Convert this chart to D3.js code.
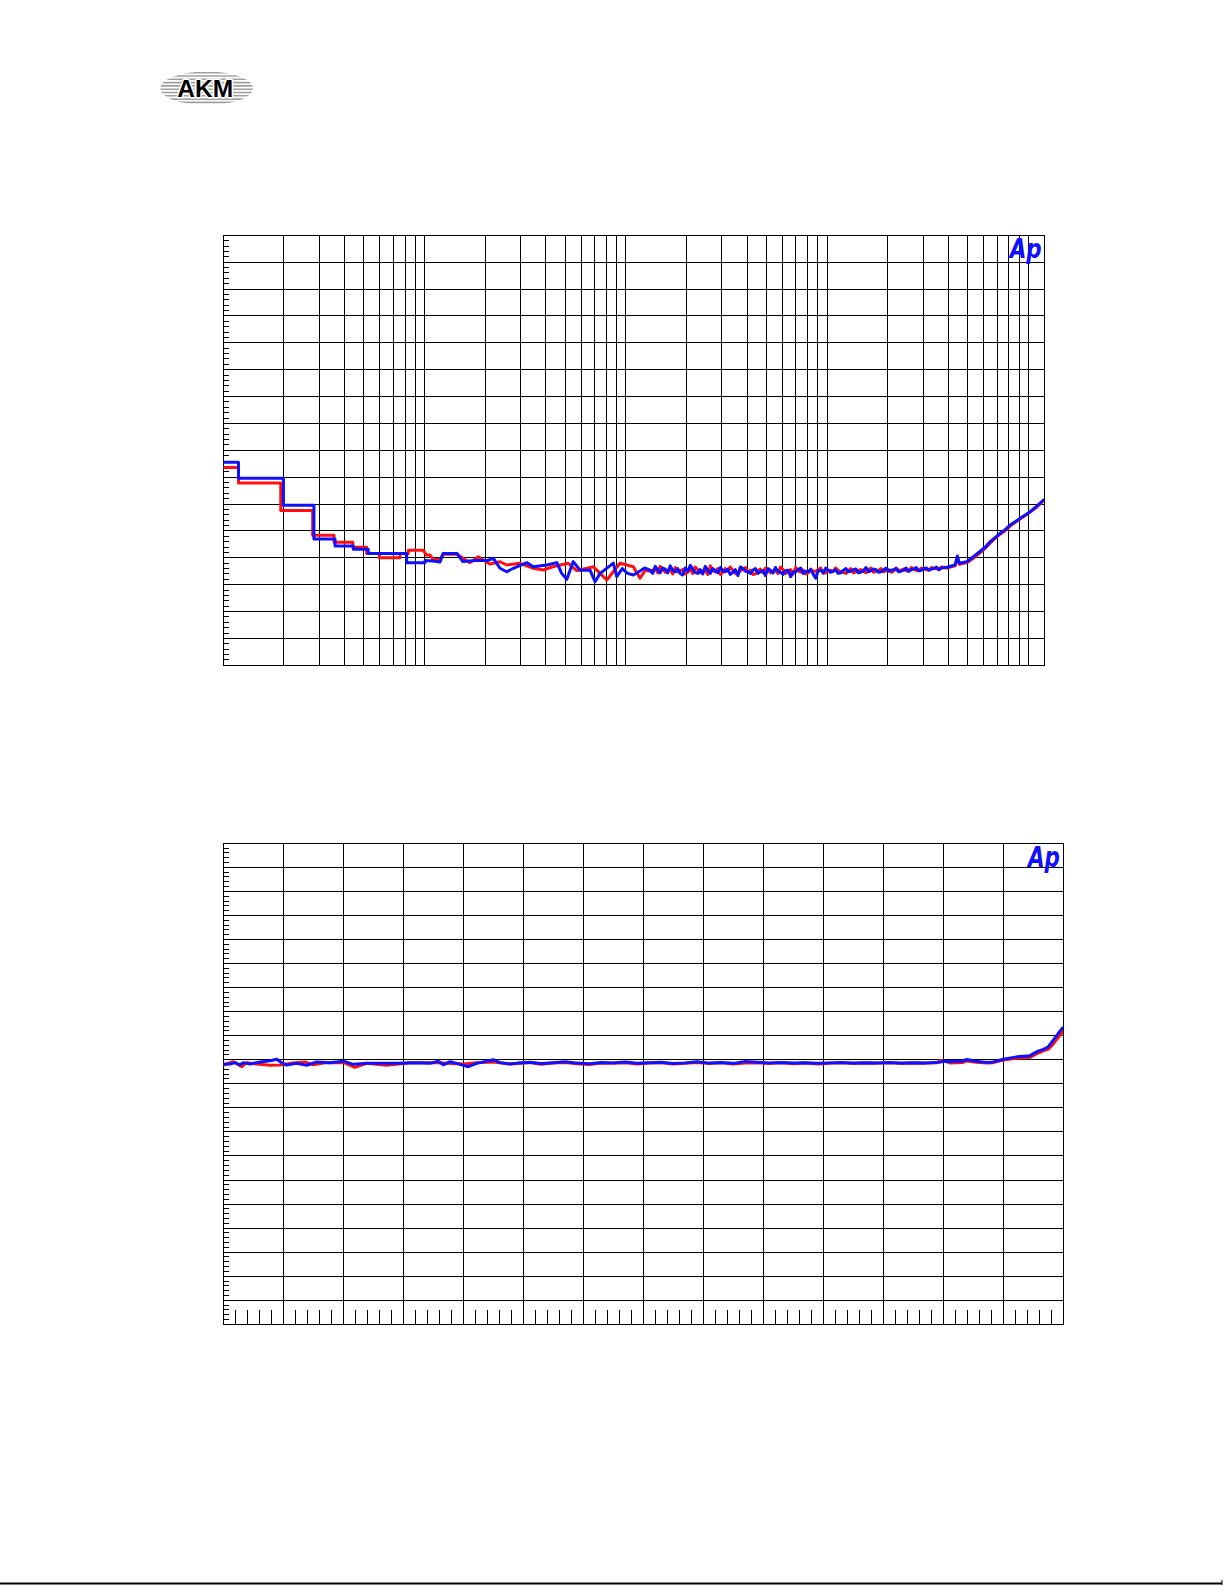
<!DOCTYPE html>
<html><head><meta charset="utf-8">
<script src="https://cdn.jsdelivr.net/npm/d3@7"></script>
<style>html,body{margin:0;padding:0;background:#fff}svg{display:block}</style>
</head><body>
<svg id="c" width="1225" height="1585"></svg>
<script>
// ---------- DATA: top chart (log frequency, Hz ; level, dB) ----------
const topNoiseFreq = [1320,1400,1480,1570,1660,1760,1860,1970,2090,2210,2340,2480,2630,2780,2950,3120,3300,3500,3710,3930,4160,4400,4660,4940,5230,5540,5870,6220,6590,6980,7390,7830,8290,8780,9300,9850,10400,11000,11700,12400,13100,13900,14700,15600,16500,17500,18500,19600,20800,22000,23300,24700,26200,27700,29400,31100,33000,34900,37000];
const topBlueNoise = [-102.3,-101.6,-102.8,-102.1,-101.5,-102.6,-102.9,-101.9,-101.4,-102.7,-102.2,-101.6,-102.9,-102.4,-101.8,-102.6,-103.1,-102.2,-101.7,-102.5,-102.9,-102.0,-102.6,-103.3,-102.3,-101.8,-102.7,-102.4,-103.5,-102.6,-101.9,-102.5,-102.2,-103.8,-102.3,-101.9,-102.7,-102.2,-102.8,-102.0,-102.5,-102.1,-102.7,-101.8,-102.4,-102.2,-102.6,-101.9,-102.3,-102.0,-102.5,-101.9,-102.2,-101.8,-102.3,-101.9,-102.1,-101.7,-101.9];
const topRedNoise = [-102.5,-102.0,-101.6,-102.7,-102.2,-101.8,-102.4,-103.0,-102.1,-101.7,-102.8,-102.3,-101.5,-102.6,-103.1,-102.0,-101.7,-102.9,-102.4,-101.8,-102.3,-103.0,-102.1,-101.9,-102.8,-102.4,-101.7,-102.9,-102.2,-101.8,-102.7,-103.0,-102.1,-102.5,-101.9,-102.8,-102.3,-101.9,-102.6,-102.9,-102.0,-102.6,-102.2,-102.8,-101.9,-102.5,-102.0,-102.4,-102.7,-101.9,-102.3,-102.4,-101.8,-102.3,-101.9,-102.2,-101.8,-102.0,-101.7];
const topNoiseFreq2 = [1360,1440,1525,1615,1710,1810,1915,2030,2150,2275,2410,2555,2705,2865,3035,3210,3400,3605,3820,4045,4280,4530,4800,5085,5385,5705,6045,6405,6785,7185,7610,8060,8530,9035,9570,10120,10700,11350,12050,12750,13500,14300,15150,16050,17000,18000,19050,20200,21400,22650,24000,25450,26950,28550,30250,32050,33950,35950];
const topBlueNoise2 = [-102.9,-102.2,-101.9,-102.8,-102.3,-102.0,-103.2,-102.5,-102.1,-102.9,-103.0,-102.3,-102.0,-102.8,-102.4,-102.1,-102.7,-103.3,-102.0,-102.6,-102.3,-102.9,-102.4,-102.0,-102.8,-102.5,-103.1,-102.3,-102.7,-102.2,-102.9,-102.6,-103.0,-102.4,-102.8,-102.3,-102.5,-102.9,-102.3,-102.6,-102.2,-102.8,-102.4,-102.6,-102.1,-102.7,-102.3,-102.5,-102.2,-102.6,-102.3,-102.5,-102.1,-102.4,-102.0,-102.3,-102.0,-102.2];
const topRedNoise2 = [-102.3,-102.8,-102.1,-102.4,-103.0,-102.6,-102.2,-102.7,-102.9,-102.2,-102.5,-103.1,-102.4,-102.0,-102.7,-102.5,-102.3,-102.8,-102.2,-102.6,-103.1,-102.4,-102.7,-102.3,-102.5,-102.9,-102.2,-102.6,-103.0,-102.4,-102.3,-102.8,-102.5,-102.2,-102.9,-102.4,-102.6,-102.3,-102.7,-102.4,-102.8,-102.3,-102.5,-102.2,-102.7,-102.4,-102.6,-102.2,-102.5,-102.3,-102.1,-102.5,-102.2,-102.4,-102.1,-102.3,-102.0,-102.2];

const topBlueLowFreq = [10,11.9,11.9,19.9,19.9,28.2,28.2,35.9,35.9,44.3,44.3,52.5,52.5,81.5,81.5,100.5,100.5,110,119.4,123.5,145,155,180,205,219.7,237,256,276,322,347,405,454,480,509,548,592,664,703,745,867,901,960,1020,1090,1160,1240];
const topBlueLow = [-82.2,-82.2,-85.2,-85.2,-90.2,-90.2,-96.5,-96.5,-97.8,-97.8,-98.4,-98.4,-99.2,-99.2,-100.9,-100.9,-100.5,-100.6,-100.8,-99.2,-99.2,-100.7,-100.5,-100.5,-100.1,-101.95,-102.6,-101.95,-100.9,-101.66,-101.34,-100.9,-102.9,-104.0,-100.7,-102.3,-102.3,-104.45,-102.9,-101.0,-103.5,-102.0,-102.9,-103.2,-102.6,-101.9];
const topRedLowFreq = [10,11.9,11.9,19.3,19.3,27.8,27.8,35.5,35.5,44.0,44.0,51.6,51.6,59.6,59.6,75.5,75.5,83,83,98.6,102,106.5,110,119.4,123.5,145,168,185,211,237,256,298,347,389,434,518,570,690,745,804,936,1090,1176,1250];
const topRedLow = [-83.2,-83.2,-86.1,-86.1,-91.2,-91.2,-95.8,-95.8,-97.1,-97.1,-98.05,-98.05,-99.2,-99.2,-100.0,-100.0,-99.2,-99.2,-98.6,-98.6,-99.5,-99.5,-100.3,-100.3,-99.35,-99.35,-100.9,-99.8,-101.15,-100.73,-101.34,-101.02,-101.95,-102.27,-101.66,-101.02,-102.4,-101.66,-102.89,-104.13,-101.02,-101.66,-103.81,-102.3];

const topHighFreq = [39330,43230,44380,45410,49410,53300,58670,61500,64530,68200,72360,76500,81150,86000,90960,96000,102000,110000,120000];
const topBlueHigh = [-101.77,-101.34,-99.67,-101.02,-100.73,-99.8,-98.55,-97.9,-97.0,-96.3,-95.44,-94.8,-93.9,-93.3,-92.65,-92.1,-91.42,-90.4,-89.12];
const topRedHigh = [-101.9,-101.5,-100.0,-101.2,-100.9,-100.1,-98.8,-98.1,-97.3,-96.4,-95.6,-95.0,-94.1,-93.4,-92.8,-92.2,-91.5,-90.6,-89.2];

// ---------- DATA: bottom chart (linear x ; level) ----------
const botBlueX = [0,0.112,0.195,0.278,0.333,0.445,0.612,0.778,0.89,0.973,1.057,1.223,1.39,1.557,1.778,2.0,2.167,2.39,2.89,3.223,3.445,3.583,3.667,3.778,3.89,4.083,4.223,4.5,4.612,4.778,4.9,5.1,5.3,5.5,5.7,5.9,6.1,6.3,6.5,6.7,6.9,7.1,7.3,7.5,7.7,7.9,8.1,8.3,8.5,8.7,8.9,9.1,9.3,9.5,9.7,9.9,10.1,10.3,10.5,10.7,10.9,11.1,11.3,11.5,11.7,11.945,12.0,12.112,12.328,12.39,12.55,12.723,12.833,13.0,13.223,13.445,13.557,13.667,13.75,13.833,13.917,14.0];
const botBlue = [0.081,0.082,0.088,0.079,0.088,0.082,0.091,0.096,0.102,0.088,0.078,0.085,0.077,0.091,0.088,0.094,0.081,0.085,0.085,0.088,0.085,0.094,0.079,0.092,0.085,0.071,0.085,0.100,0.088,0.082,0.086,0.090,0.084,0.088,0.092,0.086,0.083,0.089,0.087,0.091,0.085,0.088,0.090,0.084,0.087,0.092,0.086,0.089,0.085,0.093,0.090,0.087,0.089,0.086,0.088,0.085,0.087,0.089,0.086,0.088,0.087,0.089,0.086,0.088,0.087,0.090,0.094,0.093,0.095,0.101,0.094,0.089,0.091,0.102,0.112,0.117,0.1335,0.1435,0.154,0.182,0.21,0.235];
const botRedX = [0,0.167,0.307,0.39,0.557,0.778,0.945,1.112,1.362,1.5,1.723,2.0,2.195,2.39,2.723,3.112,3.557,4.0,4.223,4.5,4.778,4.9,5.1,5.3,5.5,5.7,5.9,6.1,6.3,6.5,6.7,6.9,7.1,7.3,7.5,7.7,7.9,8.1,8.3,8.5,8.7,8.9,9.1,9.3,9.5,9.7,9.9,10.1,10.3,10.5,10.7,10.9,11.1,11.3,11.5,11.7,11.9,11.945,12.0,12.112,12.328,12.39,12.55,12.723,12.833,13.0,13.223,13.445,13.557,13.667,13.75,13.833,13.917,14.0];
const botRed = [0.078,0.092,0.071,0.088,0.082,0.077,0.078,0.085,0.091,0.079,0.088,0.089,0.068,0.085,0.077,0.088,0.088,0.082,0.088,0.091,0.082,0.084,0.088,0.081,0.086,0.089,0.083,0.080,0.086,0.085,0.088,0.082,0.086,0.087,0.082,0.085,0.089,0.084,0.087,0.082,0.086,0.087,0.084,0.087,0.083,0.086,0.082,0.085,0.087,0.084,0.086,0.085,0.087,0.084,0.086,0.085,0.088,0.097,0.096,0.087,0.089,0.095,0.090,0.086,0.088,0.099,0.106,0.110,0.125,0.137,0.144,0.166,0.193,0.220];

// ---------- helpers ----------
const zip = (xs, ys) => xs.map((x, i) => [x, ys[i]]);
const svg = d3.select('#c');

// ---------- AKM logo ----------
(function () {
  const g = svg.append('g');
  const cx = 206.7, cy = 88.3, rx = 46.5, ry = 16.8;
  g.append('clipPath').attr('id', 'akmClip')
    .append('ellipse').attr('cx', cx).attr('cy', cy).attr('rx', rx).attr('ry', ry);
  const stripes = g.append('g').attr('clip-path', 'url(#akmClip)');
  for (let y = cy - ry + 1.2; y < cy + ry; y += 3.3) {
    stripes.append('line').attr('x1', cx - rx).attr('x2', cx + rx).attr('y1', y).attr('y2', y)
      .attr('stroke', '#a0a0a0').attr('stroke-width', 1.6);
  }
  g.append('text').attr('x', cx - 1.5).attr('y', 97).attr('text-anchor', 'middle')
    .attr('font-family', 'Liberation Sans, Arial, sans-serif').attr('font-weight', 'bold')
    .attr('font-size', 24.5).attr('fill', '#000').attr('stroke', '#fff').attr('stroke-width', 3)
    .attr('paint-order', 'stroke').attr('stroke-linejoin', 'round').text('AKM');
})();

function apLogo(xRight, yBase, size, width) {
  svg.append('text').attr('x', xRight - width).attr('y', yBase)
    .attr('font-family', 'DejaVu Sans, Liberation Sans, sans-serif').attr('font-weight', 'bold')
    .attr('font-style', 'italic').attr('font-size', size).attr('fill', '#1010ff')
    .attr('textLength', width).attr('lengthAdjust', 'spacingAndGlyphs').text('Ap');
}

// ---------- TOP CHART ----------
(function () {
  const L = 223.3, R = 1044.3, T = 235.3, B = 665.3;
  const x = d3.scaleLog().domain([10, 120000]).range([L, R]);
  const y = d3.scaleLinear().domain([-120, -40]).range([B, T]);
  const g = svg.append('g').attr('shape-rendering', 'crispEdges');
  g.selectAll('.vg').data(x.ticks().filter(v => v > 10 && v < 120000)).join('line')
    .attr('x1', d => x(d)).attr('x2', d => x(d)).attr('y1', T).attr('y2', B)
    .attr('stroke', '#000').attr('stroke-width', 1);
  g.selectAll('.hg').data(y.ticks(16)).join('line')
    .attr('x1', L).attr('x2', R).attr('y1', d => y(d)).attr('y2', d => y(d))
    .attr('stroke', '#000').attr('stroke-width', 1);
  const minor = d3.range(-120, -40, 1).filter(v => v % 5 !== 0);
  g.selectAll('.mt').data(minor).join('line')
    .attr('x1', L).attr('x2', L + 5.5).attr('y1', d => y(d)).attr('y2', d => y(d))
    .attr('stroke', '#000').attr('stroke-width', 1);
  g.append('rect').attr('x', L).attr('y', T).attr('width', R - L).attr('height', B - T)
    .attr('fill', 'none').attr('stroke', '#000').attr('stroke-width', 1);

  svg.append('clipPath').attr('id', 'clipTop').append('rect')
    .attr('x', L - 2).attr('y', T).attr('width', R - L + 2).attr('height', B - T);
  const line = d3.line().x(d => x(d[0])).y(d => y(d[1]));
  const byF = (a, b) => a[0] - b[0];
  const redNoise = zip(topNoiseFreq, topRedNoise).concat(zip(topNoiseFreq2, topRedNoise2)).sort(byF);
  const blueNoise = zip(topNoiseFreq, topBlueNoise).concat(zip(topNoiseFreq2, topBlueNoise2)).sort(byF);
  const red = zip(topRedLowFreq, topRedLow).concat(redNoise, zip(topHighFreq, topRedHigh));
  const blue = zip(topBlueLowFreq, topBlueLow).concat(blueNoise, zip(topHighFreq, topBlueHigh));
  const dg = svg.append('g').attr('clip-path', 'url(#clipTop)');
  dg.append('path').datum(red).attr('d', line).attr('fill', 'none').attr('stroke', '#ff1010')
    .attr('stroke-width', 3).attr('stroke-linejoin', 'round');
  dg.append('path').datum(blue).attr('d', line).attr('fill', 'none').attr('stroke', '#1010ff')
    .attr('stroke-width', 3).attr('stroke-linejoin', 'round');
  apLogo(1041.7, 257.5, 27, 32);
})();

// ---------- BOTTOM CHART ----------
(function () {
  const L = 223.3, R = 1063.3, T = 843.3, B = 1324.3;
  const x = d3.scaleLinear().domain([0, 14]).range([L, R]);
  const y = d3.scaleLinear().domain([-1, 1]).range([B, T]);
  const g = svg.append('g').attr('shape-rendering', 'crispEdges');
  g.selectAll('.vg').data(d3.range(1, 14)).join('line')
    .attr('x1', d => x(d)).attr('x2', d => x(d)).attr('y1', T).attr('y2', B)
    .attr('stroke', '#000').attr('stroke-width', 1);
  g.selectAll('.hg').data(d3.range(1, 20).map(i => -1 + i * 0.1)).join('line')
    .attr('x1', L).attr('x2', R).attr('y1', d => y(d)).attr('y2', d => y(d))
    .attr('stroke', '#000').attr('stroke-width', 1);
  const minorY = d3.range(0, 100).filter(i => i % 5 !== 0).map(i => -1 + i * 0.02);
  g.selectAll('.my').data(minorY).join('line')
    .attr('x1', L).attr('x2', L + 5.5).attr('y1', d => y(d)).attr('y2', d => y(d))
    .attr('stroke', '#000').attr('stroke-width', 1);
  const minorX = d3.range(0, 70).filter(i => i % 5 !== 0).map(i => i * 0.2);
  g.selectAll('.mx').data(minorX).join('line')
    .attr('x1', d => x(d)).attr('x2', d => x(d)).attr('y1', B).attr('y2', B - 14)
    .attr('stroke', '#000').attr('stroke-width', 1);
  g.append('rect').attr('x', L).attr('y', T).attr('width', R - L).attr('height', B - T)
    .attr('fill', 'none').attr('stroke', '#000').attr('stroke-width', 1);

  svg.append('clipPath').attr('id', 'clipBot').append('rect')
    .attr('x', L - 2).attr('y', T).attr('width', R - L + 2).attr('height', B - T);
  const line = d3.line().x(d => x(d[0])).y(d => y(d[1]));
  const dg = svg.append('g').attr('clip-path', 'url(#clipBot)');
  dg.append('path').datum(zip(botRedX, botRed)).attr('d', line).attr('fill', 'none')
    .attr('stroke', '#ff1010').attr('stroke-width', 3).attr('stroke-linejoin', 'round');
  dg.append('path').datum(zip(botBlueX, botBlue)).attr('d', line).attr('fill', 'none')
    .attr('stroke', '#1010ff').attr('stroke-width', 3).attr('stroke-linejoin', 'round');
  apLogo(1060, 866.7, 28, 32);
})();

// ---------- footer rule ----------
svg.append('line').attr('x1', 0).attr('x2', 1222).attr('y1', 1583.5).attr('y2', 1583.5)
  .attr('stroke', '#000').attr('stroke-width', 2);
svg.append('line').attr('x1', 1222).attr('x2', 1222).attr('y1', 1580).attr('y2', 1585)
  .attr('stroke', '#000').attr('stroke-width', 1);
</script>
</body></html>
